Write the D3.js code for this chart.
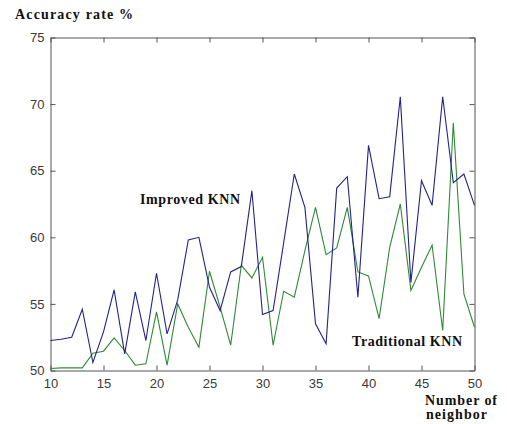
<!DOCTYPE html>
<html>
<head>
<meta charset="utf-8">
<script src="https://cdn.jsdelivr.net/npm/d3@7"></script>
<style>
  body { margin: 0; background: #fff; }
  svg { display: block; }
</style>
</head>
<body>
<div class="d3"></div>
<script>
'use strict';

// number of neighbours k
const neighbors = [10, 11, 12, 13, 14, 15, 16, 17, 18, 19, 20, 21, 22, 23, 24, 25, 26, 27, 28, 29, 30,
  31, 32, 33, 34, 35, 36, 37, 38, 39, 40, 41, 42, 43, 44, 45, 46, 47, 48, 49, 50];

// accuracy rate % for each k
const improvedKNN = [52.25, 52.35, 52.5, 54.6, 50.6, 52.9, 56.05, 51.25, 55.9, 52.25, 57.3,
  52.75, 55.3, 59.8, 60.0, 56.25, 54.5, 57.4, 57.8, 63.5, 54.2,
  54.5, 59.6, 64.75, 62.25, 53.5, 52.0, 63.7, 64.55, 55.5, 66.9,
  62.9, 63.05, 70.55, 56.6, 64.25, 62.4, 70.55, 64.1, 64.75, 62.4];

const traditionalKNN = [50.15, 50.2, 50.2, 50.2, 51.3, 51.45, 52.45, 51.5, 50.4, 50.5, 54.4,
  50.4, 55.0, 53.25, 51.75, 57.45, 54.75, 51.9, 57.9, 56.95, 58.5,
  51.9, 55.95, 55.5, 59.0, 62.25, 58.7, 59.2, 62.25, 57.4, 57.1,
  53.9, 59.25, 62.5, 56.0, 57.75, 59.4, 53.0, 68.6, 55.75, 53.25];

const xTicks = [10, 15, 20, 25, 30, 35, 40, 45, 50];
const yTicks = [50, 55, 60, 65, 70, 75];

const colors = {
  'Improved': '#23238a',
  'Traditional': '#2f8a35',
  'Axis': '#555',
  'Tick text': '#3a3a3a',
  'Label': '#111'
};

function drawChart() {
  const width = 507;
  const height = 424;
  const plot = {left: 50, right: 474, top: 37, bottom: 370};

  const x_scale = d3.scaleLinear()
    .domain([d3.min(neighbors), d3.max(neighbors)])
    .range([plot.left + 0.5, plot.right + 0.5]);
  const y_scale = d3.scaleLinear()
    .domain([d3.min(yTicks), d3.max(yTicks)])
    .range([plot.bottom + 0.5, plot.top + 0.5]);

  const svg = d3.select('.d3').append('svg')
    .attr('width', width)
    .attr('height', height);

  // the four sides of the box, ticks pointing inside, labels only left and bottom
  const bottomAxis = svg.append('g')
    .attr('transform', 'translate(0,' + (plot.bottom + 0.5) + ')')
    .call(d3.axisBottom(x_scale).tickValues(xTicks).tickSizeInner(-5).tickSizeOuter(0).tickPadding(8));
  const leftAxis = svg.append('g')
    .attr('transform', 'translate(' + (plot.left + 0.5) + ',0)')
    .call(d3.axisLeft(y_scale).tickValues(yTicks).tickSizeInner(-5).tickSizeOuter(0).tickPadding(6));
  svg.append('g')
    .attr('transform', 'translate(0,' + (plot.top + 0.5) + ')')
    .call(d3.axisTop(x_scale).tickValues(xTicks).tickSizeInner(-5).tickSizeOuter(0).tickFormat(''));
  svg.append('g')
    .attr('transform', 'translate(' + (plot.right + 0.5) + ',0)')
    .call(d3.axisRight(y_scale).tickValues(yTicks).tickSizeInner(-5).tickSizeOuter(0).tickFormat(''));

  svg.selectAll('.domain, .tick line')
    .attr('stroke', colors['Axis'])
    .attr('stroke-width', 1);

  svg.selectAll('.tick text')
    .attr('fill', colors['Tick text'])
    .style('font-family', '"Liberation Sans", Arial, sans-serif')
    .style('font-size', '13px');

  const line = (values) => d3.line()
    .x((d, i) => x_scale(neighbors[i]))
    .y((d) => y_scale(d))(values);

  svg.append('path')
    .attr('d', line(traditionalKNN))
    .attr('fill', 'none')
    .attr('stroke', colors['Traditional'])
    .attr('stroke-width', 1.1);

  svg.append('path')
    .attr('d', line(improvedKNN))
    .attr('fill', 'none')
    .attr('stroke', colors['Improved'])
    .attr('stroke-width', 1.1);

  // bold serif labels, stretched to the width they have in the original
  const labels = [
    {text: 'Accuracy rate %', x: 15, y: 19, w: 118},
    {text: 'Improved KNN', x: 140, y: 204, w: 100},
    {text: 'Traditional KNN', x: 352, y: 346, w: 110},
    {text: 'Number of', x: 425, y: 405, w: 72},
    {text: 'neighbor', x: 426, y: 419, w: 61}
  ];
  svg.selectAll('.label')
    .data(labels)
    .enter()
    .append('text')
    .attr('class', 'label')
    .attr('x', (d) => d.x)
    .attr('y', (d) => d.y)
    .attr('textLength', (d) => d.w)
    .attr('lengthAdjust', 'spacing')
    .attr('fill', colors['Label'])
    .style('font-family', '"Liberation Serif", "Times New Roman", serif')
    .style('font-weight', 'bold')
    .style('font-size', '14px')
    .text((d) => d.text);
}

window.addEventListener('load', drawChart);
</script>
</body>
</html>
